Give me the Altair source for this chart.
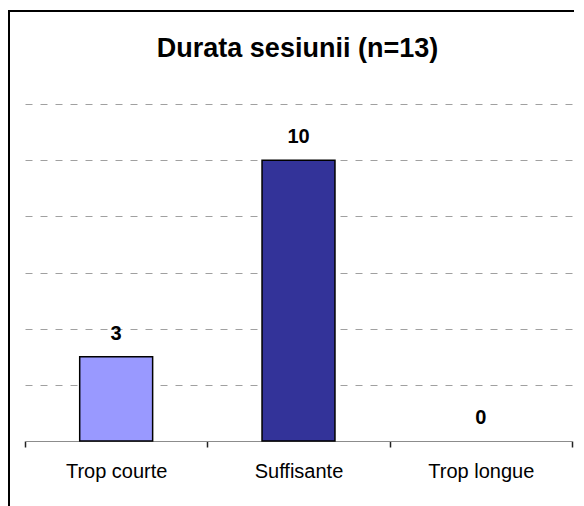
import altair as alt
import pandas as pd

title_text = "Durata sesiunii (n=13)"
categories = ["Trop courte", "Suffisante", "Trop longue"]
counts = [3, 10, 0]
bar_colors = ["#9999FF", "#333399", "#993366"]
grid_values = [2, 4, 6, 8, 10, 12]

df = pd.DataFrame({"cat": categories, "n": counts})

FONT = "Liberation Sans"

x_enc = alt.X(
    "cat:N", sort=categories, title=None,
    scale=alt.Scale(paddingInner=0, paddingOuter=0),
    axis=alt.Axis(labelAngle=0, labelFont=FONT, labelFontSize=20, labelColor="black",
                  labelPadding=14, ticks=True, tickSize=6, tickBand="extent", tickColor="#222222",
                  tickOpacity=1, tickWidth=1.5, domainColor="#8c8c8c",
                  domainWidth=1, grid=False),
)
y_enc = alt.Y(
    "n:Q", title=None,
    scale=alt.Scale(domain=[0, 12], nice=False),
    axis=alt.Axis(values=grid_values, labels=False, ticks=False, domain=False, grid=True,
                  gridDash=[7, 8], gridColor="#a0a0a0", gridWidth=1),
)

bars = alt.Chart(df).mark_bar(
    stroke="black", strokeWidth=1.5, width=alt.RelativeBandSize(0.4)
).encode(
    x=x_enc, y=y_enc,
    color=alt.Color("cat:N", scale=alt.Scale(domain=categories, range=bar_colors), legend=None),
    strokeOpacity=alt.condition("datum.n > 0", alt.value(1), alt.value(0)),
)

labels = alt.Chart(df).mark_text(
    font=FONT, fontSize=20, fontWeight="bold", baseline="alphabetic", dy=-17, color="black"
).encode(x=x_enc, y=y_enc, text="n:Q")

frame = alt.Chart(alt.Data(values=[{}])).mark_rect(
    filled=False, stroke="black", strokeWidth=2
).encode(x=alt.value(-16), x2=alt.value(900), y=alt.value(-93), y2=alt.value(900))

title = alt.Chart(alt.Data(values=[{}])).mark_text(
    font=FONT, fontSize=27, fontWeight="bold", baseline="alphabetic", align="center", color="black"
).encode(x=alt.value(272.5), y=alt.value(-47.3), text=alt.value(title_text))

chart = alt.layer(bars, labels, title, frame).properties(
    width=547, height=337,
    padding={"left": 17, "top": 96, "right": 2, "bottom": 65},
    autosize=alt.AutoSizeParams(type="none"),
    background="white",
).configure_view(stroke=None)

chart.save("out.html", embed_options={"renderer": "svg", "actions": False})
